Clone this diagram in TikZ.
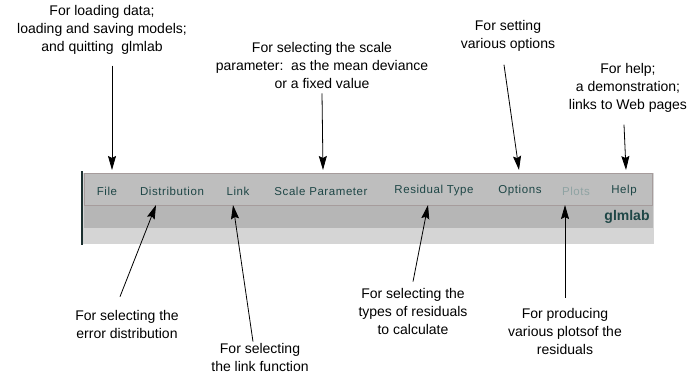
\documentclass[tikz,border=0pt]{standalone}
\usepackage{fontspec}
\setmainfont{Liberation Sans}
\usetikzlibrary{arrows.meta}
\definecolor{menutext}{HTML}{1E4646}
\definecolor{menugrey}{HTML}{8FA3A3}
\definecolor{barfill}{HTML}{BEBEBE}
\definecolor{rowfill}{HTML}{B6B6B6}
\definecolor{bandfill}{HTML}{D5D5D5}
\definecolor{baredge}{HTML}{A69C9C}
\definecolor{winedge}{HTML}{1C3030}

\begin{document}
\begin{tikzpicture}[x=1pt,y=-1pt]
    \useasboundingbox (0,0) rectangle (696,380);
    % the glmlab window strip
    \fill[bandfill] (82,173) rectangle (654,244);
    \fill[rowfill] (84,206) rectangle (653,228);
    \fill[barfill] (84,173) rectangle (653,205);
    \draw[baredge,line width=0.6pt] (84,173.5) rectangle (652.5,205);
    \draw[winedge,line width=2pt] (82,171) -- (82,245);
    \begin{scope}[every node/.style={inner sep=0pt,text=menutext,font=\fontsize{11.5}{13}\selectfont\addfontfeature{LetterSpace=5}}]
      \node (file) at (107,191) {File};
      \node (dist) at (172,191) {Distribution};
      \node (link) at (238,191) {Link};
      \node (scale) at (321,191) {Scale Parameter};
      \node (resid) at (434,191) {Residual Type};
      \node (opts) at (520,191) {Options};
      \node[text=menugrey] (plots) at (576,191) {Plots};
      \node (help) at (624,191) {Help};
      \node[font=\fontsize{14}{16}\selectfont\bfseries] (glm) at (627,217) {glmlab};
    \end{scope}
    \begin{scope}[every node/.style={align=center,inner sep=1pt,font=\fontsize{14}{18}\selectfont}]
      \node (loadtxt) at (102,30) {For loading data;\\loading and saving models;\\and quitting\ \ glmlab};
      \node (scaletxt) at (322,65) {For selecting the scale\\parameter:\ \ as the mean deviance\\or a fixed value};
      \node (optstxt) at (508,36) {For setting\\various options};
      \node (helptxt) at (628,88) {For help;\\a demonstration;\\links to Web pages};
      \node (disttxt) at (127,324) {For selecting the\\error distribution};
      \node (linktxt) at (260,357) {For selecting\\the link function};
      \node (residtxt) at (413,311) {For selecting the\\types of residuals\\to calculate};
      \node (plotstxt) at (565,331) {For producing\\various plotsof the\\residuals};
    \end{scope}
    \coordinate (filetip) at (112,170);
    \coordinate (scaletip) at (323,170);
    \coordinate (optstip) at (519,170);
    \coordinate (helptip) at (626,170);
    \coordinate (disttip) at (156,205);
    \coordinate (linktip) at (233,205);
    \coordinate (residtip) at (428,205);
    \coordinate (plotstip) at (565,205);
    \begin{scope}[
      every edge/.style={draw=black,line width=0.8pt,-{Stealth[length=14pt,width=8pt,inset=2pt]}}]
      \path ([xshift=10pt,yshift=-10pt]loadtxt.south) edge (filetip);
      \path ([yshift=-4pt]scaletxt.south) edge (scaletip);
      \path ([xshift=-4pt,yshift=-12pt]optstxt.south) edge (optstip);
      \path ([xshift=-4pt,yshift=-11pt]helptxt.south) edge (helptip);
      \path ([xshift=-7pt,yshift=12pt]disttxt.north) edge (disttip);
      \path ([xshift=-7pt]linktxt.north) edge (linktip);
      \path ([yshift=5pt]residtxt.north) edge (residtip);
      \path ([yshift=9pt]plotstxt.north) edge (plotstip);
    \end{scope}
  \end{tikzpicture}
\end{document}
